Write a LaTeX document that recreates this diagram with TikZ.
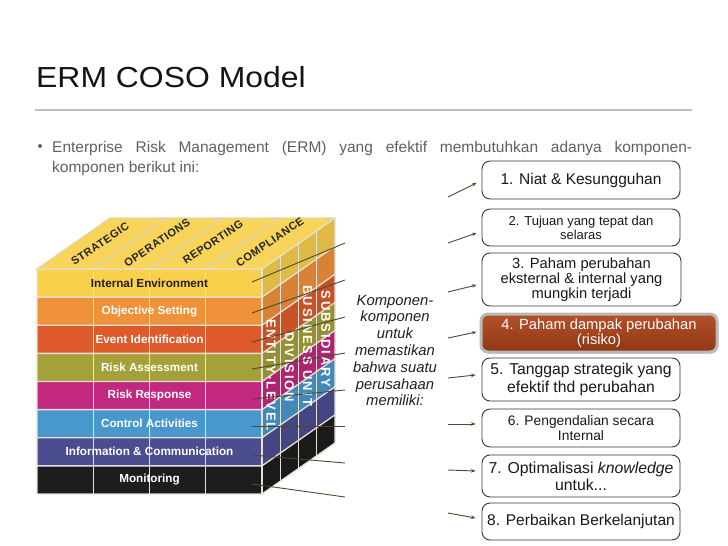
\documentclass[tikz,border=0pt]{standalone}
\usepackage{fontspec}
\setmainfont{Liberation Sans}
\usetikzlibrary{arrows.meta,shadows,calc}
\definecolor{cYel}{HTML}{F8D04C}
\definecolor{cOra}{HTML}{EF9139}
\definecolor{cRed}{HTML}{DF5A2A}
\definecolor{cOli}{HTML}{A5A13A}
\definecolor{cMag}{HTML}{C1287E}
\definecolor{cBlu}{HTML}{4898CE}
\definecolor{cInd}{HTML}{4B4D90}
\definecolor{cBlk}{HTML}{1D1D1D}
\definecolor{gridc}{HTML}{E6E1D6}
\definecolor{topgrid}{HTML}{E2D6A8}
\definecolor{leader}{HTML}{4A4A2C}
\definecolor{brownA}{HTML}{B4512A}
\definecolor{brownB}{HTML}{8F3614}
\tikzset{
  leaderline/.style={draw=leader, line width=0.9pt},
  arr/.style={draw=leader, line width=0.9pt, -{Stealth[length=4.5pt,width=3.5pt]}},
  pbox/.style={draw=black!80, line width=0.9pt, rounded corners=8pt, fill=white,
    align=center, inner sep=0pt, minimum width=198pt, text=black!90},
  frontlab/.style={font=\bfseries\fontsize{11.7}{11.7}\selectfont, inner sep=0pt},
  toplab/.style={font=\bfseries\fontsize{11}{11}\selectfont\addfontfeature{LetterSpace=5},
    text=black!85, rotate=34, inner sep=0pt},
  sidelab/.style={font=\bfseries\fontsize{13}{13}\selectfont\addfontfeature{LetterSpace=14},
    text=white, inner sep=0pt, rotate=-90},
}
\begin{document}
\begin{tikzpicture}[x=1pt,y=-1pt]
\useasboundingbox (0,0) rectangle (728,546);
\fill[white] (0,0) rectangle (728,546);
% title
\node[anchor=base west, inner sep=0pt, font=\fontsize{29}{29}\selectfont, text=black!92, xscale=1.1] (title) at (36,87) {ERM COSO Model};
\draw[black!25, line width=1.2pt] (35,110) -- (692,110);
% bullet text
\fill[black!60] (40,146) circle (2pt);
\node[anchor=base west, inner sep=0pt, font=\fontsize{15.5}{18}\selectfont, text=black!62] (l1) at (52,152)
  {\makebox[640pt][s]{Enterprise Risk Management (ERM) yang efektif membutuhkan adanya komponen-}};
\node[anchor=base west, inner sep=0pt, font=\fontsize{15.5}{18}\selectfont, text=black!62] (l2) at (52,172)
  {komponen berikut ini:};
% cube top face
\fill[cYel!92!white] (37,269) -- (110,218) -- (335,218) -- (262,269) -- cycle;
\foreach \x in {93.25,149.5,205.75} \draw[topgrid, line width=1.8pt] (\x,269) -- (\x+73,218);
\draw[topgrid, line width=1.2pt] (37,269) -- (110,218) -- (335,218) -- (262,269) -- cycle;
% bands
\foreach \c [count=\i from 0] in {cYel,cOra,cRed,cOli,cMag,cBlu,cInd,cBlk} {
  \pgfmathsetmacro\ya{269+28.125*\i}
  \pgfmathsetmacro\yb{269+28.125*(\i+1)}
  \fill[\c] (37,\ya) rectangle (262,\yb);
  \fill[\c!90!black] (262,\ya) -- (335,\ya-51) -- (335,\yb-51) -- (262,\yb) -- cycle;
}
% grid lines
\foreach \i in {1,...,7} {
  \pgfmathsetmacro\ya{269+28.125*\i}
  \draw[gridc, line width=1.3pt] (37,\ya) -- (262,\ya) -- (335,\ya-51);
}
\foreach \x in {93.25,149.5,205.75} \draw[gridc, line width=1.3pt] (\x,269) -- (\x,494);
\foreach \k in {1,2,3} \draw[gridc, line width=1.3pt] (262+18.25*\k,269-12.75*\k) -- (262+18.25*\k,494-12.75*\k);
\draw[gridc, line width=1.3pt] (37,269) -- (262,269) -- (335,218) -- (335,443) -- (262,494) -- (37,494) -- cycle;
\draw[gridc, line width=1.3pt] (262,269) -- (262,494);
% front labels
\foreach \t/\tc [count=\i from 0] in {Internal Environment/black!88,Objective Setting/white,Event Identification/white,Risk Assessment/white,Risk Response/white,Control Activities/white,Information \& Communication/white,Monitoring/white}
  \node[frontlab, text=\tc] (f\i) at (149.5,{283+28.125*\i}) {\t};
% top labels
\node[toplab] (tS) at (100,244) {STRATEGIC};
\node[toplab] (tO) at (157,243) {OPERATIONS};
\node[toplab] (tR) at (213,242) {REPORTING};
\node[toplab] (tC) at (270,242) {COMPLIANCE};
% side labels
\node[sidelab] (sE) at (271.1,375) {ENTITY-LEVEL};
\node[sidelab] (sD) at (289.4,367) {DIVISION};
\node[sidelab] (sB) at (307.6,346) {BUSINESS UNIT};
\node[sidelab] (sS) at (325.9,339) {SUBSIDIARY};
% leader lines
\foreach \i/\ys/\ye in {1/282/243,2/313/280,3/342/317,4/369/353,5/399/390,6/426/426,7/455/463,8/484/497} {
  \coordinate (s\i) at (252,\ys);
  \coordinate (e\i) at (345,\ye);
  \draw[leaderline] (s\i) -- (e\i);
}
% middle text
\node[font=\itshape\fontsize{14.8}{16.8}\selectfont, align=center, text=black!88, inner sep=0pt] (mid) at (395,350.5)
  {Komponen-\\komponen\\untuk\\memastikan\\bahwa suatu\\perusahaan\\memiliki:};
% boxes
\node[pbox, minimum height=38pt, font=\fontsize{15.5}{17}\selectfont] (b1) at (581,180) {1. Niat \& Kesungguhan};
\node[pbox, minimum height=37pt, font=\fontsize{13}{14}\selectfont] (b2) at (581,227.5) {2. Tujuan yang tepat dan\\selaras};
\node[pbox, minimum height=53pt, minimum width=199pt, font=\fontsize{14.7}{15.2}\selectfont] (b3) at (581.5,279.5) {3. Paham perubahan\\eksternal \& internal yang\\mungkin terjadi};
\node[draw=black!28, line width=3pt, rounded corners=7pt, top color=brownA, bottom color=brownB,
  drop shadow={shadow xshift=1.5pt, shadow yshift=-1.5pt, opacity=0.35},
  minimum width=236pt, minimum height=38pt, inner sep=0pt, align=center, text=white,
  font=\fontsize{14.7}{15}\selectfont] (b4) at (599,333) {4. Paham dampak perubahan\\(risiko)};
\node[pbox, minimum height=43pt, font=\fontsize{15.7}{17.6}\selectfont] (b5) at (581,379.5) {5. Tanggap strategik yang\\efektif thd perubahan};
\node[pbox, minimum height=38pt, font=\fontsize{13.8}{15.3}\selectfont] (b6) at (581,428) {6. Pengendalian secara\\Internal};
\node[pbox, minimum height=42pt, font=\fontsize{15.8}{16.7}\selectfont] (b7) at (581,476) {7. Optimalisasi \textit{knowledge}\\untuk...};
\node[pbox, minimum height=37pt, font=\fontsize{15.5}{17}\selectfont] (b8) at (581,521.5) {8. Perbaikan Berkelanjutan};
% arrows
\foreach \i/\yt/\dx/\dy in {1/197/-5/-3,2/243/-5/-5.5,3/292/-5/-5.5,4/338/-3/1,5/378/-6/4.5,6/424/-6/4,7/470/-6/5,8/513/-6/3.5} {
  \coordinate (t\i) at (448,\yt);
  \draw[arr] (t\i) -- ([xshift=\dx pt, yshift=\dy pt]b\i.west);
}
\end{tikzpicture}
\end{document}
